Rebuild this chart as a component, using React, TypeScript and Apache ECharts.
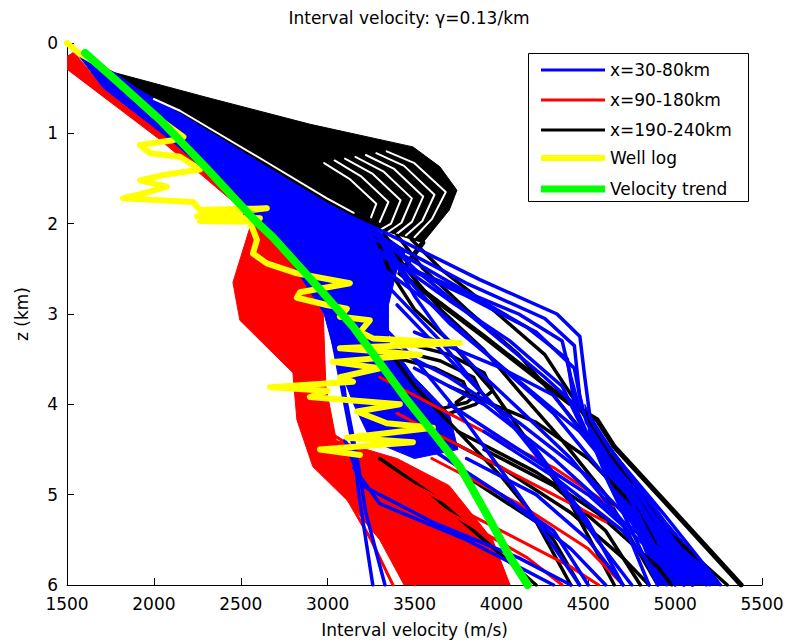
import React, { useEffect, useRef } from 'react';
import * as echarts from 'echarts';

type P = [number, number];

// velocity (m/s), depth (km)
const velocityTrend: P[] = [
  [1604, 0.11], [1820, 0.48], [2035, 0.85], [2310, 1.4], [2580, 1.96], [2685, 2.15],
  [2920, 2.65], [3146, 3.14], [3300, 3.54], [3456, 3.95], [3610, 4.32], [3761, 4.69],
  [3934, 5.28], [4049, 5.69], [4152, 6.0],
];

const wellLog: P[] = [
  [1500, 0.0], [1560, 0.1], [1650, 0.2], [1760, 0.38], [1870, 0.57], [2000, 0.8], [2170, 1.04],
  [2100, 1.08], [1920, 1.13], [1978, 1.22], [2150, 1.26], [2265, 1.4], [2060, 1.46], [1920, 1.52],
  [2075, 1.59], [1950, 1.66], [1822, 1.72], [2225, 1.76], [2265, 1.85], [2650, 1.83], [2248, 1.92],
  [2610, 1.94], [2265, 1.97], [2553, 1.98], [2593, 2.18], [2570, 2.33], [2650, 2.44], [2823, 2.55],
  [3128, 2.66], [2841, 2.76], [2823, 2.82], [2996, 2.9], [3111, 2.94], [3071, 3.03], [3243, 3.07],
  [3186, 3.2], [3261, 3.27], [3761, 3.32], [3071, 3.38], [3531, 3.45], [3030, 3.53], [3301, 3.6],
  [3071, 3.7], [3146, 3.75], [2668, 3.81], [3000, 3.85], [2898, 3.92], [3416, 4.0], [3169, 4.08],
  [3341, 4.21], [3606, 4.26], [3111, 4.37], [3491, 4.42], [2956, 4.5], [3186, 4.56],
];

const redEnvelope: P[] = [
  [1500, 0.15], [1540, 0.1], [1710, 0.5], [2093, 1.07], [2540, 1.82], [2620, 2.0], [2800, 2.45],
  [2975, 3.0], [2990, 3.8], [3050, 4.4], [3400, 4.6], [3700, 4.9], [3950, 5.5], [4050, 6.0],
  [3440, 6.0], [3300, 5.5], [3111, 5.06], [2915, 4.69], [2823, 4.17], [2800, 3.65], [2495, 3.07],
  [2455, 2.65], [2553, 2.04], [2495, 1.82], [2035, 1.07], [1644, 0.5], [1500, 0.29],
];

// outline of the x=190-240km fan
const blackFan: P[] = [
  [1776, 0.33], [2300, 0.6], [2900, 0.9], [3491, 1.15], [3646, 1.37], [3744, 1.63], [3700, 1.85],
  [3548, 2.21], [3261, 2.04], [2996, 1.77], [2650, 1.37], [2150, 0.78], [1900, 0.5],
];

// white gaps between the fan's profiles
const fanGaps: P[][] = [
  [[2000, 0.62], [2150, 0.75], [2650, 1.32], [2996, 1.72], [3150, 1.88]],
  [[3340, 1.2], [3500, 1.33], [3680, 1.65], [3600, 1.95], [3500, 2.15]],
  [[3280, 1.22], [3440, 1.36], [3615, 1.68], [3545, 1.97], [3450, 2.13]],
  [[3220, 1.24], [3380, 1.39], [3550, 1.7], [3485, 1.98], [3400, 2.11]],
  [[3160, 1.26], [3320, 1.42], [3485, 1.72], [3425, 1.99], [3350, 2.09]],
  [[3100, 1.28], [3260, 1.45], [3420, 1.74], [3365, 2.0], [3310, 2.06]],
  [[3040, 1.3], [3195, 1.48], [3350, 1.76], [3300, 1.98]],
  [[2980, 1.33], [3130, 1.51], [3280, 1.78], [3250, 1.93]],
];

const blueEnvelope: P[] = [
  [1520, 0.02], [1540, 0.1], [1776, 0.33], [1900, 0.5], [2150, 0.78], [2650, 1.37], [2996, 1.77],
  [3261, 2.04], [3450, 2.3], [3400, 2.5], [3350, 2.9], [3350, 3.3], [3500, 3.7], [3700, 4.1],
  [3750, 4.5], [3500, 4.6], [3250, 4.4], [3150, 4.0], [3050, 3.5], [2980, 3.0], [2800, 2.45],
  [2620, 2.0], [2540, 1.82], [2093, 1.07], [1710, 0.5],
];

// dense bundle of x=30-80km profiles near the lower right edge
const blueTrunk: P[] = [
  [4480, 4.0], [4530, 4.2], [4640, 4.5], [4950, 5.3], [5260, 6.0], [4900, 6.0], [4800, 5.5],
  [4620, 4.9], [4510, 4.4],
];

const blueProfiles: P[][] = [
  [[2700, 1.55], [3300, 2.07], [3876, 2.62], [4320, 3.0], [4452, 3.25], [4480, 3.7], [4510, 4.14], [4642, 4.54], [4950, 5.25], [5260, 6.0]],
  [[2700, 1.6], [3250, 2.1], [3800, 2.66], [4250, 3.05], [4420, 3.35], [4450, 3.9], [4490, 4.2], [4620, 4.6], [4930, 5.35], [5200, 6.0]],
  [[2750, 1.7], [3300, 2.2], [3750, 2.7], [4150, 3.15], [4380, 3.5], [4420, 4.0], [4500, 4.35], [4800, 5.1], [5100, 6.0]],
  [[2800, 1.8], [3300, 2.3], [3700, 2.85], [4050, 3.3], [4350, 3.8], [4450, 4.2], [4700, 4.9], [5000, 6.0]],
  [[2850, 1.9], [3250, 2.4], [3600, 2.9], [3950, 3.5], [4300, 4.1], [4600, 4.8], [4900, 6.0]],
  [[2900, 2.0], [3300, 2.6], [3650, 3.3], [3900, 3.9], [4200, 4.5], [4500, 5.3], [4700, 6.0]],
  [[3000, 2.3], [3200, 2.9], [3500, 3.5], [3800, 4.2], [4100, 5.0], [4450, 6.0]],
  [[2600, 1.95], [2900, 2.5], [3000, 3.0], [3050, 3.5], [3100, 4.0], [3150, 4.5], [3180, 5.0], [3260, 6.0]],
  [[2650, 2.0], [2950, 2.6], [3050, 3.2], [3100, 3.9], [3170, 4.6], [3220, 5.2], [3330, 6.0]],
  [[3100, 4.4], [3200, 4.9], [3600, 5.3], [4100, 5.7], [4400, 6.0]],
  [[3150, 4.7], [3300, 5.1], [3800, 5.5], [4300, 6.0]],
  [[3300, 3.3], [3700, 3.7], [4100, 4.2], [4500, 4.8], [4850, 5.5], [5050, 6.0]],
  [[3500, 3.6], [3900, 4.0], [4300, 4.6], [4700, 5.3], [5180, 6.0]],
  [[3000, 2.1], [3600, 2.6], [4100, 3.0], [4350, 3.3], [4400, 3.7], [4450, 4.05]],
  [[3700, 4.0], [4100, 4.5], [4500, 5.0], [4850, 5.6], [5050, 6.0]],
  [[3900, 4.3], [4300, 4.8], [4700, 5.4], [4950, 6.0]],
  [[3600, 4.5], [4000, 5.0], [4400, 5.6], [4600, 6.0]],
  [[3500, 3.2], [4000, 3.6], [4300, 3.9], [4500, 4.4], [4800, 5.0], [5100, 6.0]],
  [[3800, 4.6], [4200, 5.0], [4500, 5.5], [4700, 6.0]],
  [[4000, 5.0], [4300, 5.4], [4500, 6.0]],
  [[3350, 2.4], [3800, 2.8], [4200, 3.2], [4420, 3.6], [4460, 4.0]],
  [[3261, 2.06], [3500, 2.5], [3750, 2.9], [4000, 3.3], [4250, 3.7], [4420, 4.0]],
  [[3300, 2.15], [3500, 2.7], [3700, 3.1], [3950, 3.5], [4200, 3.9], [4450, 4.3], [4750, 5.0], [5050, 6.0]],
  [[3350, 2.3], [3500, 2.8], [3650, 3.2], [3850, 3.6], [4100, 4.05], [4400, 4.6], [4700, 5.3], [4850, 6.0]],
  [[3400, 2.9], [3600, 3.3], [3850, 3.8], [4050, 4.2], [4300, 4.8], [4550, 5.5], [4750, 6.0]],
];

const redProfiles: P[][] = [
  [[3300, 3.7], [3876, 4.28], [4300, 4.7], [4642, 5.14]],
  [[3400, 4.1], [3900, 4.6], [4300, 5.0], [4600, 5.3]],
  [[3000, 4.3], [3500, 4.9], [4000, 5.4], [4400, 5.8], [4560, 6.0]],
  [[3050, 4.8], [3350, 5.3], [3500, 6.0]],
  [[3200, 4.6], [3700, 5.2], [4150, 5.7], [4350, 6.0]],
  [[3120, 5.06], [3250, 5.5], [3376, 6.0]],
  [[3600, 4.6], [4100, 5.1], [4500, 5.6], [4700, 6.0]],
];

// outermost x=190-240km profile below the fan
const blackOuter: P[] = [
  [3548, 2.21], [3416, 2.55], [3900, 3.25], [4394, 3.99], [4550, 4.17], [4650, 4.47], [5000, 5.2], [5380, 6.0],
];

const blackProfiles: P[][] = [
  [[3480, 2.17], [3650, 2.5], [3950, 2.95], [4250, 3.45], [4420, 3.95], [4600, 4.5], [4950, 5.4], [5300, 6.0]],
  [[3400, 2.13], [3550, 2.5], [3800, 2.95], [4100, 3.45], [4300, 3.9], [4550, 4.5], [4850, 5.2], [5100, 6.0]],
  [[3320, 2.09], [3450, 2.5], [3650, 2.95], [3900, 3.4], [4100, 3.85], [4350, 4.4], [4600, 5.0], [4900, 6.0]],
  [[3261, 2.05], [3350, 2.5], [3500, 2.95], [3700, 3.3], [3950, 3.85], [4150, 4.4], [4400, 5.1], [4650, 6.0]],
  [[3350, 3.4], [3500, 3.8], [3700, 4.2], [4000, 4.8], [4300, 5.5], [4450, 6.0]],
  [[3300, 4.6], [3600, 5.0], [3900, 5.5], [4200, 6.0]],
  [[3700, 3.8], [4200, 4.2], [4500, 4.6], [4800, 5.2], [5000, 6.0]],
  [[3900, 4.5], [4300, 4.9], [4600, 5.4], [4800, 6.0]],
  [[3800, 4.8], [4200, 5.3], [4400, 6.0]],
  [[3600, 4.3], [4000, 4.7], [4400, 5.2], [4700, 5.7], [4850, 6.0]],
  [[3750, 4.3], [4200, 4.75], [4550, 5.2], [4900, 5.8], [4980, 6.0]],
  [[3400, 3.3], [3700, 3.45], [3900, 3.65], [3950, 3.85], [3850, 4.0], [3700, 4.1]],
  [[3400, 3.4], [3650, 3.52], [3840, 3.7], [3880, 3.86], [3800, 3.98], [3650, 4.05]],
  [[3420, 3.5], [3620, 3.6], [3780, 3.75], [3810, 3.88], [3740, 3.98]],
];

const legendNames = ['x=30-80km', 'x=90-180km', 'x=190-240km', 'Well log', 'Velocity trend'];
const legendColors = ['#0000ff', '#ff0000', '#000000', '#ffff00', '#00ff00'];
const legendWidths = [3, 3, 3, 6, 7];

const FONT = 'DejaVu Sans';

export default function App() {
  const ref = useRef<HTMLDivElement>(null);
  useEffect(() => {
    const chart = echarts.init(ref.current!, null, { renderer: 'svg' });

    const poly = (name: string, pts: P[], color: string) => ({
      type: 'custom',
      name,
      silent: true,
      clip: true,
      data: [pts[0]],
      renderItem: (_p: any, api: any) => ({
        type: 'polygon',
        shape: { points: pts.map((p) => api.coord(p)) },
        style: { fill: color, stroke: color, lineWidth: 1 },
      }),
    });
    const line = (name: string, pts: P[], color: string, width: number) => ({
      type: 'line',
      name,
      data: pts,
      showSymbol: false,
      symbol: 'none',
      silent: true,
      clip: true,
      lineStyle: { color, width, join: 'round', cap: 'round' },
      itemStyle: { color },
    });

    const [nBlue, nRed, nBlack, nWell, nTrend] = legendNames;
    const [cBlue, cRed, cBlack, cWell, cTrend] = legendColors;

    const series: any[] = [
      poly(nRed, redEnvelope, cRed),
      poly(nBlack, blackFan, cBlack),
      ...fanGaps.map((p) => line(nBlack, p, '#ffffff', 2)),
      poly(nBlue, blueEnvelope, cBlue),
      poly(nBlue, blueTrunk, cBlue),
      line(nBlack, blackOuter, cBlack, 5),
      ...blackProfiles.map((p) => line(nBlack, p, cBlack, 3.5)),
      ...redProfiles.map((p) => line(nRed, p, cRed, 3)),
      ...blueProfiles.map((p) => line(nBlue, p, cBlue, 3.5)),
      line(nWell, wellLog, cWell, 6),
      line(nTrend, velocityTrend, cTrend, 8),
    ];

    const rowYs = [70, 100, 130, 158, 189];
    const legendGraphic: any[] = [
      {
        type: 'rect',
        shape: { x: 528.5, y: 53.5, width: 220, height: 148 },
        style: { fill: '#fff', stroke: '#000', lineWidth: 1 },
        z: 100,
      },
      ...legendNames.flatMap((n, i) => [
        {
          type: 'line',
          shape: { x1: 541, y1: rowYs[i], x2: 605, y2: rowYs[i] },
          style: { stroke: legendColors[i], lineWidth: legendWidths[i] },
          z: 101,
        },
        {
          type: 'text',
          x: 610,
          y: rowYs[i],
          style: { text: n, fill: '#000', font: `17px "${FONT}"`, textVerticalAlign: 'middle', textAlign: 'left' },
          z: 101,
        },
      ]),
      {
        type: 'text',
        x: 409,
        y: 18,
        style: {
          text: 'Interval velocity: γ=0.13/km',
          fill: '#000',
          font: `17px "${FONT}"`,
          textAlign: 'center',
          textVerticalAlign: 'middle',
        },
        z: 101,
      },
    ];

    chart.setOption({
      animation: false,
      backgroundColor: '#fff',
      grid: { left: 67, right: 30, top: 43, bottom: 59, outerBoundsMode: 'none', containLabel: false },
      xAxis: {
        type: 'value',
        min: 1500,
        max: 5500,
        interval: 500,
        name: 'Interval velocity (m/s)',
        nameLocation: 'middle',
        nameGap: 36,
        nameTextStyle: { fontFamily: FONT, fontSize: 17, color: '#000' },
        axisLine: { show: true, onZero: false, lineStyle: { color: '#000', width: 1 } },
        axisTick: { show: true, inside: true, length: 7, lineStyle: { color: '#000' } },
        axisLabel: { fontFamily: FONT, fontSize: 17, color: '#000', margin: 10, formatter: (v: number) => String(v) },
        splitLine: { show: false },
      },
      yAxis: {
        type: 'value',
        min: 0,
        max: 6,
        interval: 1,
        inverse: true,
        name: 'z (km)',
        nameLocation: 'middle',
        nameGap: 37,
        nameTextStyle: { fontFamily: FONT, fontSize: 17, color: '#000' },
        axisLine: { show: true, onZero: false, lineStyle: { color: '#000', width: 1 } },
        axisTick: { show: true, inside: true, length: 7, lineStyle: { color: '#000' } },
        axisLabel: { fontFamily: FONT, fontSize: 17, color: '#000', margin: 9, formatter: (v: number) => String(v) },
        splitLine: { show: false },
      },
      series,
      graphic: legendGraphic,
    });
    return () => chart.dispose();
  }, []);
  return <div ref={ref} style={{ position: 'fixed', left: 0, top: 0, width: 792, height: 644 }} />;
}
